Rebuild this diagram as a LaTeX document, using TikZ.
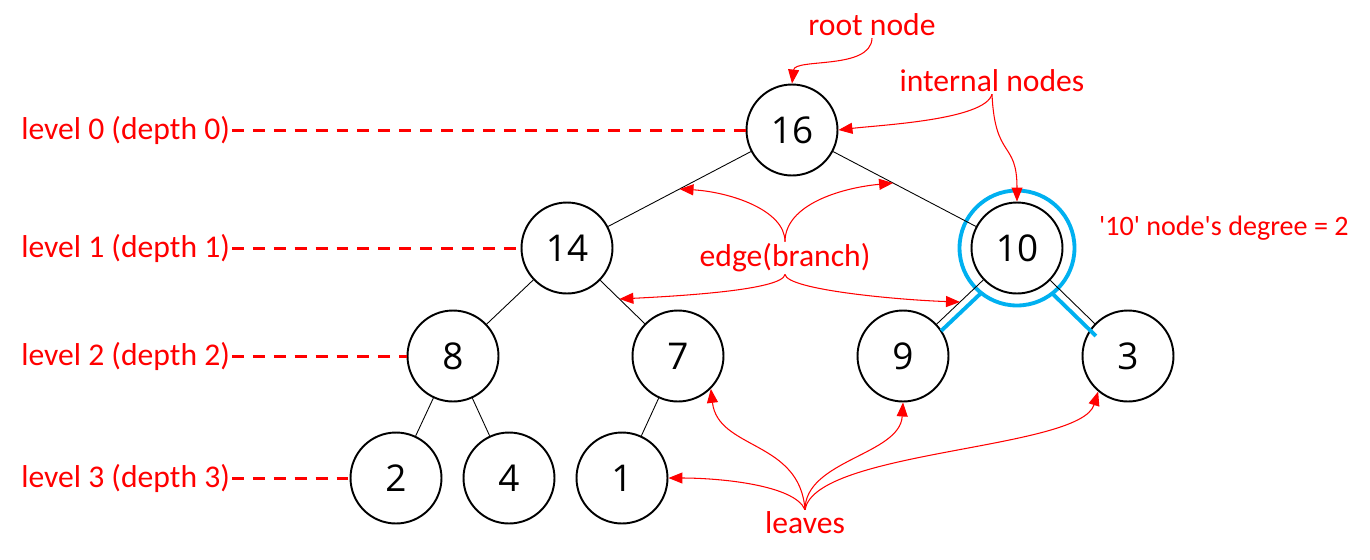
\documentclass[tikz,border=0pt]{standalone}
\usepackage{fontspec}
\setmainfont{Carlito}
\newfontfamily\numfont{Open Sans}
\usetikzlibrary{arrows.meta, positioning, calc}
\definecolor{notered}{RGB}{255,0,0}
\definecolor{ringblue}{RGB}{0,176,240}

\begin{document}
\begin{tikzpicture}[
		x=0.02cm, y=-0.02cm,
		treenode/.style={circle, draw, line width=1.1pt, minimum size=1.82cm, inner sep=0pt, font=\numfont\fontsize{21}{24}\selectfont},
		ring/.style={circle, draw=ringblue, line width=2.2pt, minimum size=2.3cm},
		lbl/.style={text=notered, inner sep=1pt, font=\fontsize{18}{20}\selectfont},
		dashline/.style={draw=notered, line width=1.7pt, dash pattern=on 6.8pt off 5.1pt},
		pointer/.style={draw=notered, line width=0.6pt, -{Triangle[length=0.28cm,width=0.22cm]}},
		branch/.style={line width=0.5pt},
		blueedge/.style={draw=ringblue, line width=2.2pt}
		]
		\useasboundingbox (0,0) rectangle (1370,559);
	
		% Tree
		\node[treenode] at (792,130) (n16) {16};
		\node[treenode] at (567,248) (n14) {14};
		\node[treenode] at (1017,248) (n10) {10};
		\node[treenode] at (453,356) (n8) {8};
		\node[treenode] at (678,356) (n7) {7};
		\node[treenode] at (903,356) (n9) {9};
		\node[treenode] at (1128,356) (n3) {3};
		\node[treenode] at (396,478) (n2) {2};
		\node[treenode] at (509,478) (n4) {4};
		\node[treenode] at (622,478) (n1) {1};
		\node[ring] at (n10) (ring10) {};
		
		\draw[branch] (n16) -- (n14);
		\draw[branch] (n16) -- (n10);
		\draw[branch] (n14) -- (n8);
		\draw[branch] (n14) -- (n7);
		\draw[branch] (n10) -- (n9);
		\draw[branch] (n10) -- (n3);
		\draw[branch] (n8) -- (n2);
		\draw[branch] (n8) -- (n4);
		\draw[branch] (n7) -- (n1);
		\draw[blueedge] ($(n10)!1.14cm!(n9)!0.16cm!90:(n9)$) -- ($(n9)!0.9cm!(n10)!0.16cm!-90:(n10)$);
		\draw[blueedge] ($(n10)!1.14cm!(n3)!0.16cm!-90:(n3)$) -- ($(n3)!0.74cm!(n10)!0.16cm!90:(n10)$);
		
		% Levels
		\coordinate (d0) at (232,130);
		\coordinate (d1) at (232,248);
		\coordinate (d2) at (232,356);
		\coordinate (d3) at (232,478);
		\node[lbl, left=0pt of d0] (lv0) {level 0 (depth 0)};
		\node[lbl, left=0pt of d1] (lv1) {level 1 (depth 1)};
		\node[lbl, left=0pt of d2] (lv2) {level 2 (depth 2)};
		\node[lbl, left=0pt of d3] (lv3) {level 3 (depth 3)};
		\draw[dashline] (d0) -- (n16);
		\draw[dashline] (d1) -- (n14);
		\draw[dashline] (d2) -- (n8);
		\draw[dashline] (d3) -- (n2);
		
		% Notes
		\node[lbl] at (872,25) (rootlbl) {root node};
		\node[lbl] at (992,81) (innerlbl) {internal nodes};
		\node[lbl] at (785,258) (edgelbl) {edge(branch)};
		\node[lbl, anchor=west, font=\fontsize{16}{18}\selectfont] at (1097,228) (deglbl) {\textquotesingle10\textquotesingle{} node\textquotesingle s degree = 2};
		\node[lbl] at (805,523) (leaflbl) {leaves};
		
		\path (n16) -- coordinate[pos=0.5] (e1) (n14);
		\path (n16) -- coordinate[pos=0.42] (e2) (n10);
		\path (n14) -- coordinate[pos=0.43] (e3) (n7);
		\path (n10) -- coordinate[pos=0.5] (e4) (n9);
		
		\draw[pointer] (rootlbl.south) .. controls (871,70) and (795,58) .. (n16.north);
		\draw[pointer] (innerlbl.south) .. controls (985,120) and (880,125) .. (n16.east);
		\draw[pointer] (innerlbl.south) .. controls (995,160) and (1017,140) .. (n10.north);
		\draw[pointer] (edgelbl.north) .. controls (785,210) and (730,192) .. (e1);
		\draw[pointer] (edgelbl.north) .. controls (785,205) and (840,188) .. (e2);
		\draw[pointer] (edgelbl.south) .. controls (783,290) and (680,296) .. (e3);
		\draw[pointer] (edgelbl.south) .. controls (787,290) and (900,300) .. (e4);
		\draw[pointer] (leaflbl.north) .. controls (795,485) and (720,478) .. (n1.east);
		\draw[pointer] (leaflbl.north) .. controls (800,440) and (718,450) .. (n7.south east);
		\draw[pointer] (leaflbl.north) .. controls (805,460) and (900,455) .. (n9.south);
		\draw[pointer] (leaflbl.north) .. controls (815,450) and (1080,450) .. (n3.-130);
		
	\end{tikzpicture}
\end{document}
